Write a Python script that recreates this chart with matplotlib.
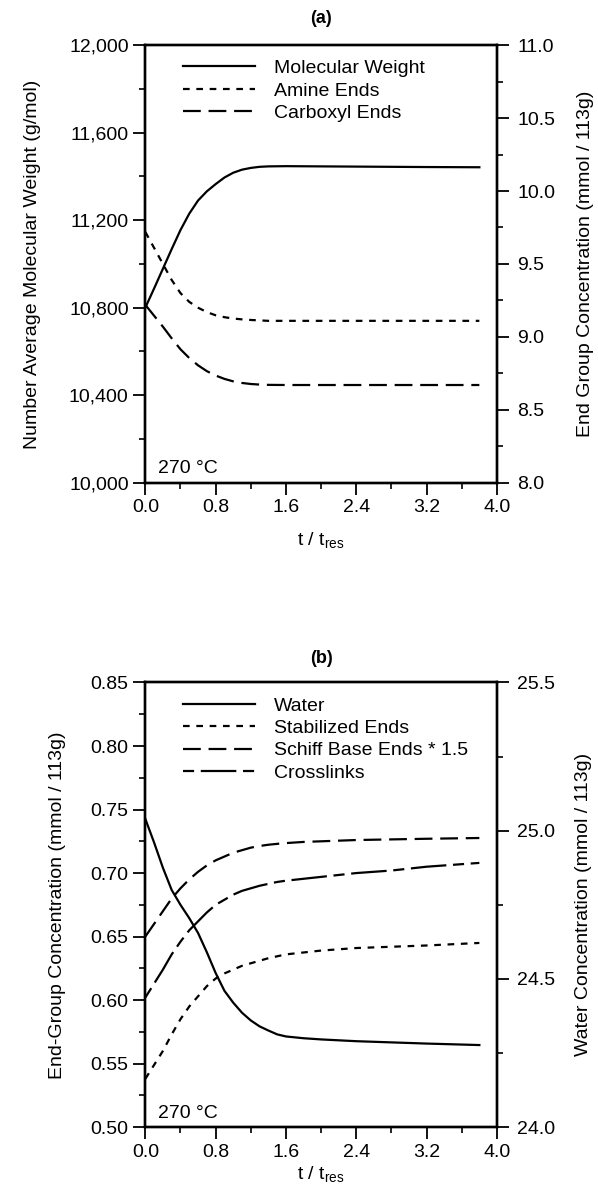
import matplotlib
matplotlib.use("Agg")
import matplotlib.pyplot as plt
from matplotlib.ticker import MultipleLocator, FuncFormatter, FormatStrFormatter

plt.rcParams['font.family'] = ['Liberation Sans', 'DejaVu Sans']
plt.rcParams['mathtext.fontset'] = 'custom'
plt.rcParams['mathtext.rm'] = 'Liberation Sans'

# ---- data, panel (a) ----
t_a = [0, 0.1, 0.2, 0.3, 0.4, 0.5, 0.6, 0.7, 0.8, 0.9, 1.0, 1.1, 1.2, 1.3, 1.4,
       1.6, 2.0, 2.4, 2.8, 3.2, 3.8]
mol_weight = [10800, 10888, 10978, 11068, 11155, 11230, 11290, 11332, 11365, 11395,
              11417, 11431, 11439, 11444, 11446, 11447, 11446, 11445, 11444, 11443, 11442]
amine_ends = [9.72, 9.61, 9.50, 9.39, 9.30, 9.24, 9.20, 9.17, 9.148, 9.135, 9.126,
              9.12, 9.116, 9.113, 9.11, 9.11, 9.11, 9.11, 9.11, 9.11, 9.11]
carboxyl_ends = [9.22, 9.145, 9.07, 8.99, 8.915, 8.855, 8.805, 8.765, 8.735, 8.712, 8.695,
                 8.684, 8.677, 8.673, 8.671, 8.67, 8.67, 8.67, 8.67, 8.67, 8.67]

# ---- data, panel (b) ----
t_b = [0, 0.1, 0.2, 0.3, 0.4, 0.5, 0.6, 0.7, 0.8, 0.9, 1.0, 1.1, 1.2, 1.3, 1.4,
       1.5, 1.6, 1.8, 2.0, 2.4, 2.8, 3.2, 3.8]
water = [25.04, 24.96, 24.875, 24.80, 24.75, 24.705, 24.655, 24.59, 24.52, 24.46, 24.42,
         24.386, 24.36, 24.34, 24.326, 24.313, 24.306, 24.30, 24.296, 24.29, 24.286, 24.282, 24.277]
stabilized = [0.538, 0.549, 0.560, 0.573, 0.585, 0.595, 0.603, 0.611, 0.617, 0.621, 0.624,
              0.627, 0.629, 0.631, 0.633, 0.6345, 0.636, 0.6375, 0.639, 0.641, 0.642, 0.643, 0.645]
schiff = [0.650, 0.660, 0.670, 0.680, 0.688, 0.695, 0.701, 0.706, 0.710, 0.713, 0.716,
          0.718, 0.720, 0.7213, 0.7223, 0.723, 0.7236, 0.7245, 0.725, 0.726, 0.7265, 0.727, 0.7276]
crosslinks = [0.602, 0.613, 0.624, 0.636, 0.646, 0.655, 0.662, 0.669, 0.675, 0.679, 0.683,
              0.686, 0.688, 0.690, 0.6915, 0.693, 0.694, 0.6955, 0.697, 0.700, 0.702, 0.705, 0.708]

FS = 14
LW = 1.6
xlabel = r't / t$_\mathregular{res}$'


def style(ax, right=False):
    for s in ax.spines.values():
        s.set_linewidth(1.7)
    ax.tick_params(which='major', direction='out', length=8.5, width=1.3,
                   labelsize=FS, pad=6 if right else 3.5)
    ax.tick_params(which='minor', direction='out', length=4.5, width=1.2)


fig = plt.figure(figsize=(5.98, 11.89), dpi=100)

# ----- panel (a) -----
ax1 = fig.add_axes([0.243, 0.594, 0.588, 0.368])
ax2 = ax1.twinx()
l1, = ax1.plot(t_a, mol_weight, color='black', lw=LW, ls='-', label='Molecular Weight')
l2, = ax2.plot(t_a, amine_ends, color='black', lw=LW, ls=(0, (3, 3)), label='Amine Ends')
l3, = ax2.plot(t_a, carboxyl_ends, color='black', lw=LW, ls=(0, (8, 3.5)), label='Carboxyl Ends')

ax1.set_xlim(0, 4)
ax1.set_ylim(10000, 12000)
ax2.set_ylim(8, 11)
ax1.xaxis.set_major_locator(MultipleLocator(0.8))
ax1.xaxis.set_minor_locator(MultipleLocator(0.4))
ax1.xaxis.set_major_formatter(FormatStrFormatter('%.1f'))
ax1.yaxis.set_major_locator(MultipleLocator(400))
ax1.yaxis.set_minor_locator(MultipleLocator(200))
ax1.yaxis.set_major_formatter(FuncFormatter(lambda v, p: f'{v:,.0f}'))
ax2.yaxis.set_major_locator(MultipleLocator(0.5))
ax2.yaxis.set_minor_locator(MultipleLocator(0.25))
ax2.yaxis.set_major_formatter(FormatStrFormatter('%.1f'))
style(ax1)
style(ax2, right=True)
ax1.set_xlabel(xlabel, fontsize=FS, labelpad=10)
ax1.set_ylabel('Number Average Molecular Weight (g/mol)', fontsize=FS, labelpad=20)
ax2.set_ylabel('End Group Concentration (mmol / 113g)', fontsize=FS, labelpad=16)
ax1.set_title('(a)', fontsize=13, fontweight='bold', pad=16)
ax1.text(0.035, 0.012, '270 °C', transform=ax1.transAxes, fontsize=FS,
         ha='left', va='bottom')
ax2.legend(handles=[l1, l2, l3], loc='upper left', bbox_to_anchor=(0.085, 0.985),
           frameon=False, fontsize=FS, handlelength=3.7, handletextpad=1.0,
           labelspacing=0.25, borderaxespad=0)

# ----- panel (b) -----
bx1 = fig.add_axes([0.243, 0.052, 0.588, 0.374])
bx2 = bx1.twinx()
m1, = bx2.plot(t_b, water, color='black', lw=LW, ls='-', label='Water')
m2, = bx1.plot(t_b, stabilized, color='black', lw=LW, ls=(0, (3, 3)), label='Stabilized Ends')
m3, = bx1.plot(t_b, schiff, color='black', lw=LW, ls=(0, (8, 3.5)), label='Schiff Base Ends * 1.5')
m4, = bx1.plot(t_b, crosslinks, color='black', lw=LW, ls=(0, (5, 3, 16, 3)), label='Crosslinks')

bx1.set_xlim(0, 4)
bx1.set_ylim(0.50, 0.85)
bx2.set_ylim(24.0, 25.5)
bx1.xaxis.set_major_locator(MultipleLocator(0.8))
bx1.xaxis.set_minor_locator(MultipleLocator(0.4))
bx1.xaxis.set_major_formatter(FormatStrFormatter('%.1f'))
bx1.yaxis.set_major_locator(MultipleLocator(0.05))
bx1.yaxis.set_minor_locator(MultipleLocator(0.025))
bx1.yaxis.set_major_formatter(FormatStrFormatter('%.2f'))
bx2.yaxis.set_major_locator(MultipleLocator(0.5))
bx2.yaxis.set_minor_locator(MultipleLocator(0.25))
bx2.yaxis.set_major_formatter(FormatStrFormatter('%.1f'))
style(bx1)
style(bx2, right=True)
bx1.set_xlabel(xlabel, fontsize=FS, labelpad=3)
bx1.set_ylabel('End-Group Concentration (mmol / 113g)', fontsize=FS, labelpad=18)
bx2.set_ylabel('Water Concentration (mmol / 113g)', fontsize=FS, labelpad=14)
bx1.set_title('(b)', fontsize=13, fontweight='bold', pad=14)
bx1.text(0.035, 0.012, '270 °C', transform=bx1.transAxes, fontsize=FS,
         ha='left', va='bottom')
bx2.legend(handles=[m1, m2, m3, m4], loc='upper left', bbox_to_anchor=(0.085, 0.985),
           frameon=False, fontsize=FS, handlelength=3.7, handletextpad=1.0,
           labelspacing=0.25, borderaxespad=0)

fig.savefig('out.png', dpi=100, facecolor='white')
